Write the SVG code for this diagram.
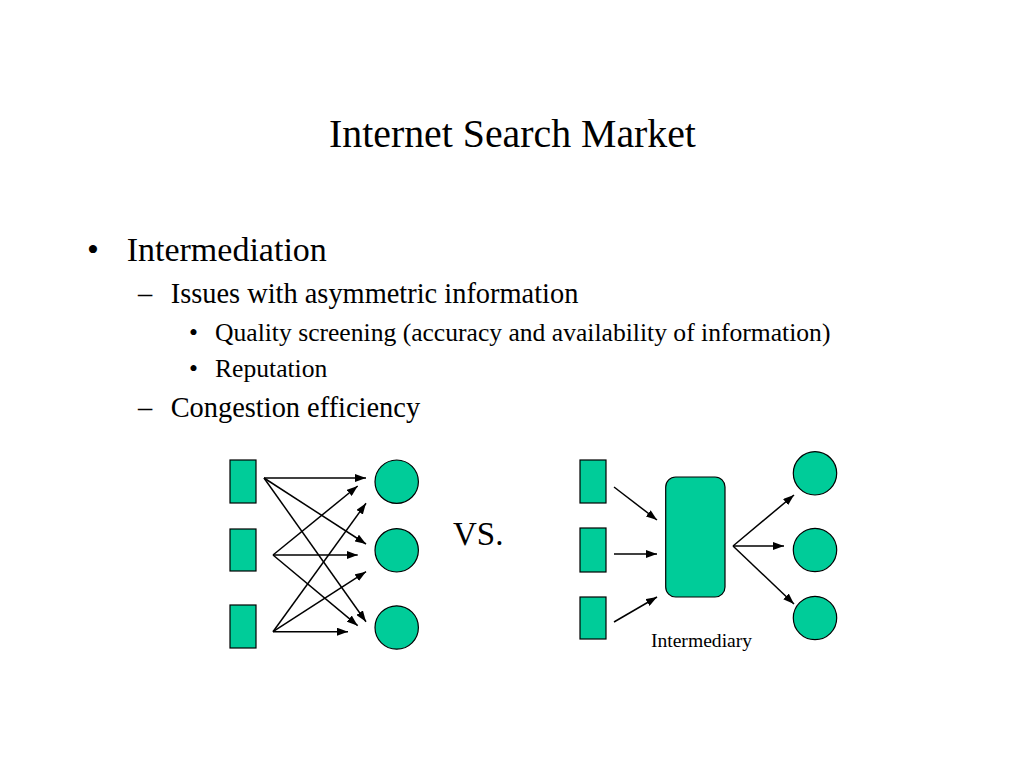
<svg xmlns="http://www.w3.org/2000/svg" width="1024" height="768" viewBox="0 0 1024 768">
<defs>
<style>
text{font-family:"Liberation Serif","Times New Roman",serif;fill:#000}
.node{fill:#00CC99;stroke:#000;stroke-width:1.2}
.c line{stroke:#000;stroke-width:1.5;marker-end:url(#ah)}
</style>
<marker id="ah" markerUnits="userSpaceOnUse" markerWidth="11" markerHeight="8" refX="11" refY="4" orient="auto">
<path d="M0,0 L11,4 L0,8 z" fill="#000"/>
</marker>
</defs>
<rect width="1024" height="768" fill="#fff"/>
<text x="512.5" y="147" font-size="39.8" text-anchor="middle">Internet Search Market</text>
<text x="87" y="260.5" font-size="34">•</text>
<text x="126.7" y="260.5" font-size="34">Intermediation</text>
<text x="138" y="302.5" font-size="28.4">–</text>
<text x="170.7" y="302.5" font-size="28.4">Issues with asymmetric information</text>
<text x="189" y="340.5" font-size="25.6">•</text>
<text x="215" y="340.5" font-size="25.6">Quality screening (accuracy and availability of information)</text>
<text x="189" y="376.5" font-size="25.6">•</text>
<text x="215" y="376.5" font-size="25.6">Reputation</text>
<text x="138" y="417" font-size="28.4">–</text>
<text x="170.7" y="417" font-size="28.4">Congestion efficiency</text>
<text x="453" y="545" font-size="33">VS.</text>

<g id="L-src1"><rect class="node" x="230" y="460" width="26" height="43"/></g>
<g id="L-src2"><rect class="node" x="230" y="529" width="26" height="42"/></g>
<g id="L-src3"><rect class="node" x="230" y="605" width="26" height="43"/></g>
<g id="L-dst1"><circle class="node" cx="396.7" cy="481.7" r="21.7"/></g>
<g id="L-dst2"><circle class="node" cx="396.7" cy="550.3" r="21.7"/></g>
<g id="L-dst3"><circle class="node" cx="396.7" cy="627.5" r="21.7"/></g>

<g id="R-src1"><rect class="node" x="580" y="460" width="26" height="43"/></g>
<g id="R-src2"><rect class="node" x="580" y="528" width="26" height="44"/></g>
<g id="R-src3"><rect class="node" x="580" y="597" width="26" height="42"/></g>
<g id="R-intermediary"><rect class="node" x="665.7" y="477" width="59.3" height="120" rx="10" ry="10"/>
<text x="701.5" y="647" font-size="19.6" text-anchor="middle">Intermediary</text></g>
<g id="R-dst1"><circle class="node" cx="815" cy="473.3" r="21.7"/></g>
<g id="R-dst2"><circle class="node" cx="815" cy="550" r="21.7"/></g>
<g id="R-dst3"><circle class="node" cx="815" cy="618" r="21.7"/></g>

<g id="connectors" class="c">
<line x1="264" y1="478" x2="366" y2="478"/>
<line x1="264" y1="478" x2="366" y2="544"/>
<line x1="264" y1="478" x2="366" y2="621.7"/>
<line x1="273" y1="555" x2="357.7" y2="486"/>
<line x1="273" y1="555" x2="357.7" y2="555"/>
<line x1="273" y1="555" x2="357.7" y2="625.7"/>
<line x1="273" y1="631.7" x2="366" y2="503.3"/>
<line x1="273" y1="631.7" x2="366" y2="571.7"/>
<line x1="273" y1="631.7" x2="348" y2="631.7"/>
<line x1="614" y1="487" x2="657" y2="520"/>
<line x1="614" y1="554" x2="657" y2="554"/>
<line x1="614" y1="622" x2="657" y2="597"/>
<line x1="733" y1="546" x2="794" y2="495"/>
<line x1="733" y1="546" x2="784" y2="546"/>
<line x1="733" y1="546" x2="794" y2="604"/>
</g>
</svg>
